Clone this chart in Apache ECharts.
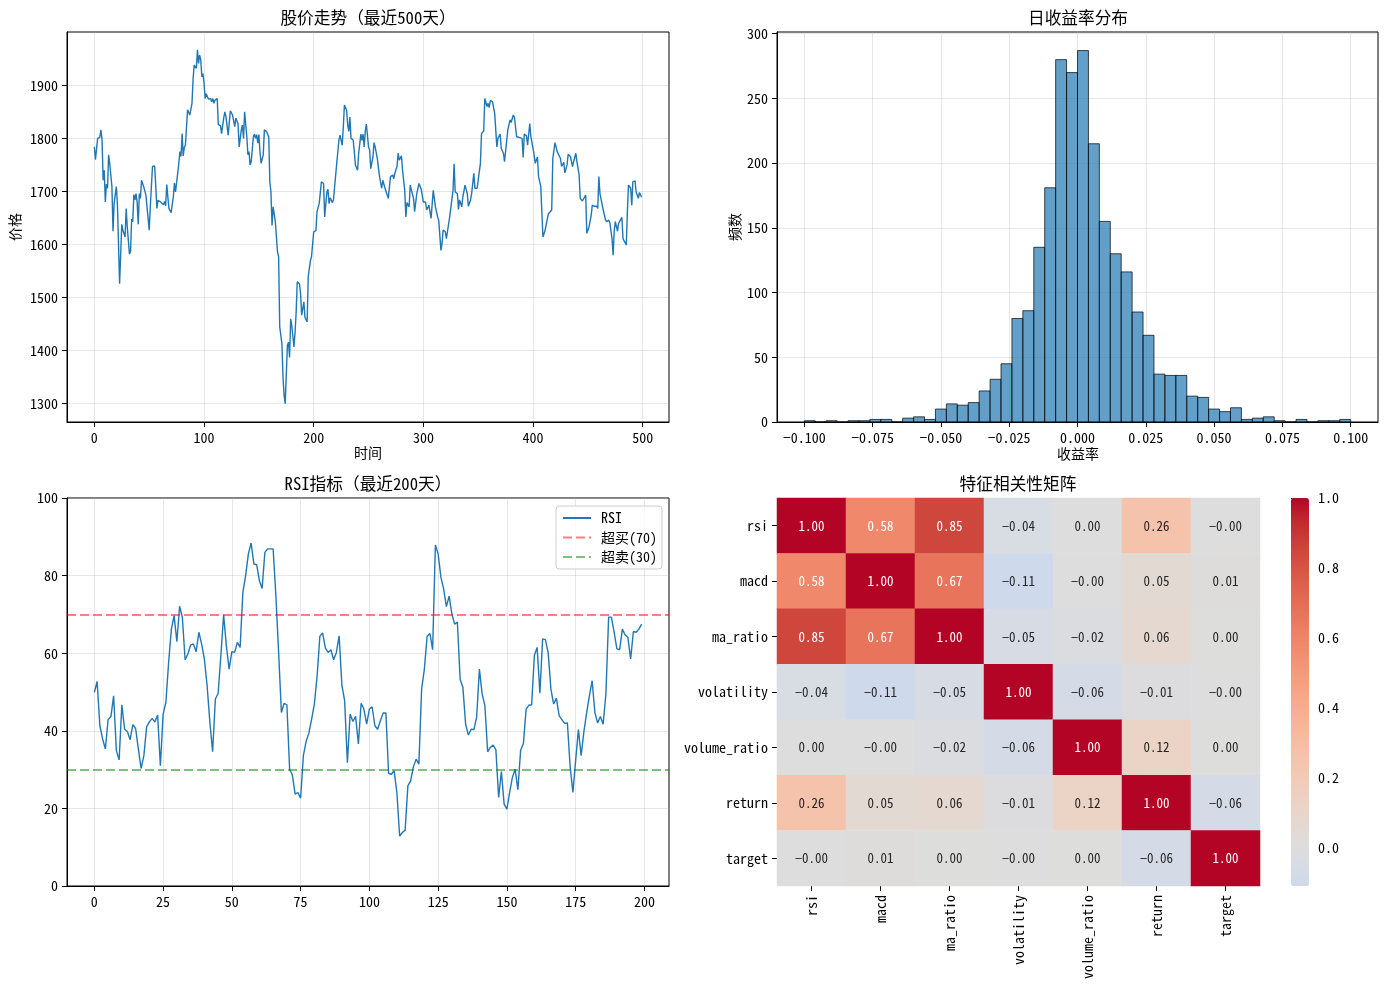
<!DOCTYPE html>
<html>
<head>
<meta charset="utf-8">
<script src="https://cdn.jsdelivr.net/npm/echarts@6/dist/echarts.min.js"></script>
<style>
html, body { margin: 0; padding: 0; background: #fff; }
#chart { width: 1389px; height: 990px; }
</style>
</head>
<body>
<div id="chart"></div>
<script>
// ---- 数据 ----
const priceDays = [0,1,3,5,6,7,8,9,10,11,12,13,14,16,17,18,20,21,23,25,26,28,29,30,32,33,34,35,36,37,38,39,40,41,42,43,44,45,46,47,50,51,53,55,56,57,58,60,61,63,64,65,66,67,68,70,72,73,74,75,77,78,79,80,81,82,83,85,86,87,89,90,91,93,94,95,96,97,98,99,100,101,102,104,106,107,108,109,110,112,113,115,116,118,119,120,122,124,126,127,128,129,131,132,134,135,136,137,139,140,141,142,143,145,146,147,148,149,150,151,152,154,155,157,159,160,161,162,163,165,167,168,169,171,172,173,174,176,177,178,179,180,182,183,184,185,187,188,189,190,191,192,194,195,196,197,198,200,202,203,205,207,209,210,212,213,214,215,217,218,219,221,222,223,224,226,227,228,230,231,232,233,234,236,237,238,240,241,243,244,245,246,247,248,250,251,252,254,255,256,258,260,262,263,265,266,268,270,272,273,274,276,277,278,280,281,283,284,285,287,288,289,291,292,294,296,297,298,300,302,303,305,306,307,309,311,313,314,316,317,318,320,321,322,323,324,325,327,328,329,331,332,333,335,336,338,340,341,343,344,346,347,349,350,352,353,355,356,358,359,360,361,363,364,365,367,368,370,371,373,374,376,377,379,380,382,383,385,387,390,391,392,394,395,397,398,400,401,402,404,405,407,408,409,411,412,414,415,417,418,420,422,423,425,426,428,429,431,432,434,436,437,439,440,442,443,445,446,448,449,451,453,454,456,458,459,460,461,462,464,466,467,469,470,472,473,474,475,477,478,479,481,482,483,485,486,487,489,490,491,493,494,496,497,499];
const priceValues = [1784,1760,1800,1802,1816,1797,1721,1740,1680,1714,1706,1769,1753,1709,1625,1677,1709,1677,1526,1638,1627,1614,1668,1633,1582,1587,1648,1643,1694,1684,1696,1680,1638,1696,1687,1721,1718,1709,1710,1693,1627,1671,1747,1748,1709,1668,1683,1681,1684,1675,1681,1673,1713,1690,1668,1660,1690,1716,1699,1702,1753,1775,1766,1809,1767,1783,1787,1854,1852,1844,1866,1911,1938,1932,1967,1941,1957,1948,1916,1922,1904,1875,1884,1874,1875,1869,1875,1866,1872,1875,1826,1824,1809,1839,1850,1841,1806,1852,1844,1844,1822,1838,1828,1784,1816,1825,1800,1850,1803,1769,1775,1750,1756,1803,1808,1800,1807,1791,1807,1775,1753,1769,1816,1813,1803,1718,1699,1636,1671,1643,1586,1577,1445,1413,1350,1316,1300,1410,1416,1387,1460,1447,1407,1435,1473,1530,1526,1508,1467,1479,1492,1463,1454,1539,1542,1570,1577,1624,1626,1662,1677,1718,1715,1652,1699,1704,1677,1688,1679,1684,1684,1753,1756,1797,1806,1787,1822,1863,1853,1825,1813,1840,1800,1797,1775,1750,1740,1772,1808,1796,1808,1784,1813,1827,1784,1778,1743,1765,1792,1784,1762,1728,1706,1721,1706,1709,1687,1728,1731,1724,1734,1748,1772,1759,1767,1740,1702,1652,1679,1671,1712,1714,1687,1662,1696,1715,1712,1704,1680,1680,1665,1674,1662,1649,1702,1671,1652,1645,1589,1602,1627,1624,1611,1625,1625,1652,1655,1702,1752,1699,1696,1666,1684,1671,1690,1712,1696,1672,1684,1696,1734,1706,1706,1706,1753,1809,1814,1875,1860,1866,1858,1871,1869,1871,1847,1784,1800,1808,1781,1772,1756,1797,1816,1835,1830,1844,1840,1803,1802,1800,1764,1808,1805,1787,1828,1803,1781,1768,1753,1765,1728,1710,1709,1614,1627,1627,1658,1660,1665,1762,1792,1775,1778,1762,1747,1755,1735,1750,1770,1766,1747,1756,1772,1756,1731,1687,1682,1684,1693,1621,1633,1655,1674,1672,1672,1668,1728,1696,1696,1665,1647,1643,1646,1641,1611,1580,1625,1643,1625,1640,1643,1651,1611,1609,1599,1662,1712,1706,1674,1718,1720,1699,1687,1698,1689];
const priceXTicks = [0, 100, 200, 300, 400, 500];
const priceYTicks = [1300, 1400, 1500, 1600, 1700, 1800, 1900];

const histStart = -0.1;
const histBinWidth = 0.004;
const histCounts = [1,0,1,0,1,1,2,2,0,3,4,2,10,14,13,15,24,33,45,80,86,135,181,280,270,287,215,155,130,116,85,67,37,36,36,20,19,10,8,11,2,3,4,1,0,2,0,1,1,2];
const histXTicks = [-0.1, -0.075, -0.05, -0.025, 0, 0.025, 0.05, 0.075, 0.1];
const histYTicks = [0, 50, 100, 150, 200, 250, 300];

const rsiValues = [49.9,52.7,41.3,37.9,35.3,42.9,43.6,49.0,34.9,32.5,46.7,40.4,39.8,37.7,41.6,40.6,35.3,30.3,33.6,41.0,42.3,43.2,42.3,44.1,31.0,44.3,47.3,57.6,66.2,69.7,63.0,72.1,69.2,58.3,59.8,62.1,62.4,60.4,65.4,62.4,58.5,51.6,42.2,34.6,48.2,49.6,59.4,69.9,61.9,55.9,60.4,60.2,62.8,61.5,75.7,80.0,85.6,88.4,83.0,82.8,78.7,76.7,86.0,86.9,86.9,86.9,74.8,60.2,44.7,47.1,46.7,30.1,28.6,23.7,24.1,22.6,33.6,37.3,39.4,43.0,46.9,54.2,64.4,65.2,61.3,60.2,60.9,58.3,60.2,64.5,51.8,47.8,31.8,44.3,42.4,43.7,36.6,47.1,45.6,41.7,45.6,46.2,41.3,40.4,42.6,44.6,44.6,29.0,28.8,29.7,24.1,12.9,13.8,14.4,25.8,27.1,30.7,32.7,31.4,50.8,55.9,64.4,65.1,60.9,87.9,85.6,79.6,76.6,72.0,74.7,70.1,67.5,68.0,53.3,51.2,41.7,38.9,40.4,40.3,43.5,55.9,49.5,46.5,34.6,35.7,36.3,35.1,22.8,29.5,21.1,19.8,24.1,28.0,30.1,24.8,35.0,36.7,45.6,46.6,46.7,59.4,61.5,49.7,63.7,63.5,60.2,50.8,46.9,48.4,43.9,42.9,41.9,42.0,30.8,24.1,32.3,40.3,33.6,39.8,44.6,49.0,52.9,44.7,42.0,43.7,41.7,49.5,69.3,69.3,65.4,61.1,60.9,66.2,64.7,64.1,58.5,65.6,65.4,66.2,67.5];
const rsiOverbought = 70;
const rsiOversold = 30;
const rsiXTicks = [0, 25, 50, 75, 100, 125, 150, 175, 200];
const rsiYTicks = [0, 20, 40, 60, 80, 100];

const features = ['rsi', 'macd', 'ma_ratio', 'volatility', 'volume_ratio', 'return', 'target'];
const corrMatrix = [
    [1.00, 0.58, 0.85, -0.04, 0.003, 0.26, -0.003],
    [0.58, 1.00, 0.67, -0.11, -0.003, 0.05, 0.01],
    [0.85, 0.67, 1.00, -0.05, -0.02, 0.06, 0.004],
    [-0.04, -0.11, -0.05, 1.00, -0.06, -0.01, -0.003],
    [0.003, -0.003, -0.02, -0.06, 1.00, 0.12, 0.004],
    [0.26, 0.05, 0.06, -0.01, 0.12, 1.00, -0.06],
    [-0.003, 0.01, 0.004, -0.003, 0.004, -0.06, 1.00]
];
const colorbarTicks = [0, 0.2, 0.4, 0.6, 0.8, 1.0];

// ---- 样式 ----
const FONT = '"Noto Sans Mono CJK SC", "Noto Sans CJK SC", "DejaVu Sans Mono", monospace';
const BLUE = '#1f77b4';
const GRID_LINE = 'rgba(176,176,176,0.3)';

// coolwarm 色表 (matplotlib)
const coolwarm = [
    [59,76,192],[68,90,204],[77,104,215],[87,117,225],[98,130,234],[108,142,241],[119,154,247],[130,165,251],
    [141,176,254],[152,185,255],[163,194,255],[174,201,253],[184,208,249],[194,213,244],[204,217,238],[213,219,230],
    [221,221,221],[229,216,209],[236,211,197],[241,204,185],[245,196,173],[247,187,160],[247,177,148],[247,166,135],
    [244,154,123],[241,141,111],[236,127,99],[229,112,88],[222,96,77],[213,80,66],[203,62,56],[192,40,47],[180,4,38]
];
function coolwarmAt(t) {
    const p = Math.max(0, Math.min(1, t)) * (coolwarm.length - 1);
    const i = Math.min(Math.floor(p), coolwarm.length - 2);
    const f = p - i;
    const c = coolwarm[i].map((v, k) => Math.round(v + (coolwarm[i + 1][k] - v) * f));
    return 'rgb(' + c.join(',') + ')';
}

const minus = s => String(s).replace('-', '\u2212');

function valueAxis(gridIndex, min, max, ticks, fmt) {
    return {
        type: 'value', gridIndex, min, max,
        axisLine: { show: true, onZero: false, lineStyle: { color: '#000', width: 1 } },
        axisTick: { show: true, length: 5, customValues: ticks, lineStyle: { color: '#000', width: 1 } },
        axisLabel: { color: '#000', fontFamily: FONT, fontSize: 14, margin: 9, customValues: ticks, formatter: fmt },
        splitLine: { show: true, lineStyle: { color: GRID_LINE, width: 1 } }
    };
}

const gridBox = { show: true, borderColor: '#000', borderWidth: 1, backgroundColor: 'transparent' };

const corrMin = Math.min(...corrMatrix.flat());
const cmapColors = [];
for (let k = 0; k <= 60; k++) {
    const v = corrMin + (1 - corrMin) * k / 60;
    cmapColors.push(coolwarmAt((v + 1) / 2));
}

const heatData = [];
corrMatrix.forEach((row, r) => row.forEach((v, c) => {
    heatData.push({ value: [c, r, v], label: { color: v > 0.5 ? '#fff' : '#262626' } });
}));

function txt(text, x, y, size, rot) {
    return {
        type: 'text', x, y, rotation: rot || 0, silent: true,
        style: { text, fill: '#000', font: size + 'px ' + FONT, align: 'center', verticalAlign: 'middle' }
    };
}

const chart = echarts.init(document.getElementById('chart'), null, { renderer: 'canvas' });

chart.setOption({
    animation: false,
    backgroundColor: '#fff',
    textStyle: { fontFamily: FONT },
    graphic: [
        txt('股价走势（最近500天）', 368, 18, 16.7),
        txt('日收益率分布', 1078, 18, 16.7),
        txt('RSI指标（最近200天）', 368, 484, 16.7),
        txt('特征相关性矩阵', 1018, 484, 16.7),
        txt('时间', 368, 453, 14),
        txt('价格', 15, 227, 14, Math.PI / 2),
        txt('收益率', 1078, 454, 14),
        txt('频数', 735, 227, 14, Math.PI / 2)
    ],
    grid: [
        Object.assign({ left: 67, top: 32, width: 602, height: 390 }, gridBox),
        Object.assign({ left: 777, top: 32, width: 601, height: 390 }, gridBox),
        Object.assign({ left: 67, top: 498, width: 602, height: 388 }, gridBox),
        { left: 777, top: 498, width: 483, height: 388, show: false },
        { left: 1291, top: 498, width: 18, height: 388, show: false }
    ],
    xAxis: [
        valueAxis(0, -24.95, 523.95, priceXTicks, v => minus(v)),
        valueAxis(1, -0.11, 0.11, histXTicks, v => minus(v.toFixed(3))),
        valueAxis(2, -9.95, 208.95, rsiXTicks, v => minus(v)),
        {
            type: 'category', gridIndex: 3, data: features,
            axisLine: { show: false },
            axisTick: { show: true, alignWithLabel: true, length: 5, lineStyle: { color: '#000' } },
            axisLabel: { rotate: 90, color: '#000', fontFamily: FONT, fontSize: 14, margin: 9, interval: 0 },
            splitLine: { show: false }, splitArea: { show: false }
        },
        { type: 'value', gridIndex: 4, show: false, min: 0, max: 1 }
    ],
    yAxis: [
        valueAxis(0, 1265.6, 2000.4, priceYTicks, v => minus(v)),
        valueAxis(1, 0, 301.35, histYTicks, v => minus(v)),
        valueAxis(2, 0, 100, rsiYTicks, v => minus(v)),
        {
            type: 'category', gridIndex: 3, data: features, inverse: true,
            axisLine: { show: false },
            axisTick: { show: true, alignWithLabel: true, length: 5, lineStyle: { color: '#000' } },
            axisLabel: { color: '#000', fontFamily: FONT, fontSize: 14, margin: 9, interval: 0 },
            splitLine: { show: false }, splitArea: { show: false }
        },
        {
            type: 'value', gridIndex: 4, position: 'right', min: corrMin, max: 1,
            axisLine: { show: false },
            axisTick: { show: true, length: 5, customValues: colorbarTicks, lineStyle: { color: '#000' } },
            axisLabel: { color: '#000', fontFamily: FONT, fontSize: 14, margin: 9, customValues: colorbarTicks, formatter: v => minus(v.toFixed(1)) },
            splitLine: { show: false }
        }
    ],
    visualMap: {
        type: 'continuous', min: corrMin, max: 1, seriesIndex: 5, calculable: false,
        orient: 'vertical', left: 1291, top: 498, itemWidth: 18, itemHeight: 388,
        padding: 0, text: null, showLabel: false, hoverLink: false,
        inRange: { color: cmapColors }
    },
    legend: {
        orient: 'vertical', left: 556, top: 506,
        data: ['RSI', '超买(70)', '超卖(30)'],
        backgroundColor: 'rgba(255,255,255,0.8)', borderColor: '#cccccc', borderWidth: 1, borderRadius: 3,
        padding: [5, 5, 5, 6], itemWidth: 28, itemHeight: 14, itemGap: 5.5,
        itemStyle: { opacity: 0 },
        textStyle: { color: '#000', fontFamily: FONT, fontSize: 14, padding: [0, 0, 0, 5] }
    },
    series: [
        {
            type: 'line', xAxisIndex: 0, yAxisIndex: 0, symbol: 'none',
            data: priceDays.map((d, i) => [d, priceValues[i]]),
            lineStyle: { color: BLUE, width: 1.4 }
        },
        {
            type: 'custom', xAxisIndex: 1, yAxisIndex: 1,
            data: histCounts.map((c, i) => [histStart + i * histBinWidth, histStart + (i + 1) * histBinWidth, c]),
            encode: { x: [0, 1], y: 2 },
            renderItem(params, api) {
                const p0 = api.coord([api.value(0), api.value(2)]);
                const p1 = api.coord([api.value(1), 0]);
                return {
                    type: 'rect',
                    shape: { x: p0[0], y: p0[1], width: p1[0] - p0[0], height: p1[1] - p0[1] },
                    style: { fill: 'rgba(31,119,180,0.7)', stroke: 'rgba(0,0,0,0.7)', lineWidth: 1 }
                };
            }
        },
        {
            name: 'RSI', type: 'line', xAxisIndex: 2, yAxisIndex: 2, symbol: 'none',
            data: rsiValues.map((v, i) => [i, v]),
            lineStyle: { color: BLUE, width: 1.4 }, itemStyle: { color: BLUE }
        },
        {
            name: '超买(70)', type: 'line', xAxisIndex: 2, yAxisIndex: 2, symbol: 'none', data: [],
            lineStyle: { color: 'rgba(255,0,0,0.5)', width: 2, type: [9, 4] }, itemStyle: { color: 'rgba(255,0,0,0.5)' },
            markLine: {
                silent: true, symbol: 'none', label: { show: false },
                lineStyle: { color: 'rgba(255,0,0,0.5)', width: 2, type: [9, 4] },
                data: [{ yAxis: rsiOverbought }]
            }
        },
        {
            name: '超卖(30)', type: 'line', xAxisIndex: 2, yAxisIndex: 2, symbol: 'none', data: [],
            lineStyle: { color: 'rgba(0,128,0,0.5)', width: 2, type: [9, 4] }, itemStyle: { color: 'rgba(0,128,0,0.5)' },
            markLine: {
                silent: true, symbol: 'none', label: { show: false },
                lineStyle: { color: 'rgba(0,128,0,0.5)', width: 2, type: [9, 4] },
                data: [{ yAxis: rsiOversold }]
            }
        },
        {
            type: 'heatmap', xAxisIndex: 3, yAxisIndex: 3,
            data: heatData,
            label: {
                show: true, fontFamily: FONT, fontSize: 13,
                formatter: p => minus(p.value[2].toFixed(2))
            },
            itemStyle: { borderWidth: 0 },
            emphasis: { disabled: true }
        }
    ]
});

window.addEventListener('resize', () => chart.resize());
</script>
</body>
</html>
